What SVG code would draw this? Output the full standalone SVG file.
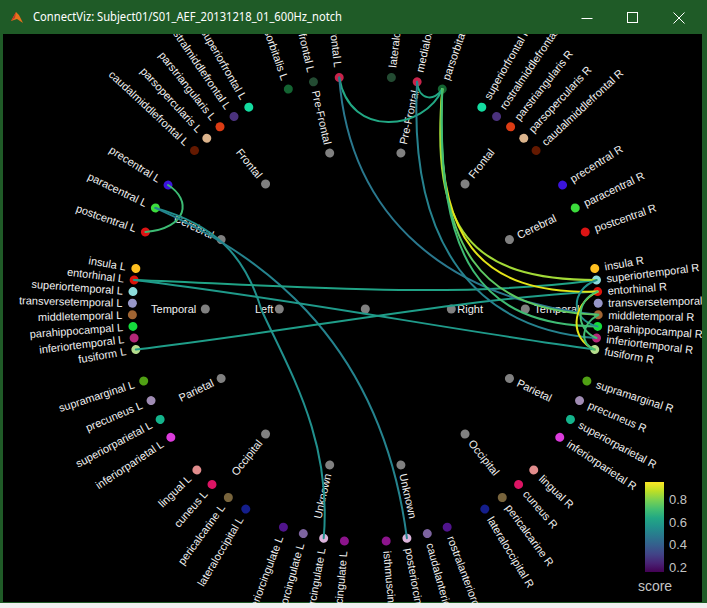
<svg xmlns="http://www.w3.org/2000/svg" width="707" height="608" viewBox="0 0 707 608">
<defs>
<linearGradient id="viridis" x1="0" y1="1" x2="0" y2="0">
<stop offset="0" stop-color="#440154"/><stop offset="0.1" stop-color="#482475"/><stop offset="0.2" stop-color="#414487"/><stop offset="0.3" stop-color="#355f8d"/><stop offset="0.4" stop-color="#2a788e"/><stop offset="0.5" stop-color="#21918c"/><stop offset="0.6" stop-color="#22a884"/><stop offset="0.7" stop-color="#44bf70"/><stop offset="0.8" stop-color="#7ad151"/><stop offset="0.9" stop-color="#bddf26"/><stop offset="1" stop-color="#fde725"/>
</linearGradient>
<style>
text{font-family:"Liberation Sans",Arial,sans-serif;font-size:11px;fill:#f0f0f0}
.l{text-anchor:end}
.r{text-anchor:start}
.g{fill:#808080}
.e{fill:none;stroke-width:2;stroke-linecap:round}
.cb{font-size:13px;fill:#c4c4c4}
.tt{font-family:"Noto Sans","Liberation Sans",sans-serif;font-size:12px;fill:#ffffff}
.wb{stroke:#ffffff;stroke-width:1;fill:none}
</style>
</defs>
<rect x="0" y="0" width="707" height="608" fill="#1f5b27"/>
<rect x="3" y="34" width="699" height="568" fill="#000000"/>

<g id="nodes">
<g id="root"><circle cx="365.3" cy="309" r="4.5" class="g"/></g>
<g id="Left"><circle cx="279.3" cy="309" r="4.5" class="g"/><text x="273.3" y="309" dy="0.35em" class="l">Left</text></g>
<g id="Right"><circle cx="451.3" cy="309" r="4.5" class="g"/><text x="457.3" y="309" dy="0.35em" class="r">Right</text></g>

<g id="PreFrontal-L" transform="rotate(77.14 365.3 309)"><circle cx="205.3" cy="309" r="4.5" class="g"/><text x="196.3" y="309" dy="0.35em" class="l">Pre-Frontal</text></g>
<g id="Frontal-L" transform="rotate(51.43 365.3 309)"><circle cx="205.3" cy="309" r="4.5" class="g"/><text x="196.3" y="309" dy="0.35em" class="l">Frontal</text></g>
<g id="Cerebral-L" transform="rotate(25.71 365.3 309)"><circle cx="205.3" cy="309" r="4.5" class="g"/><text x="196.3" y="309" dy="0.35em" class="l">Cerebral</text></g>
<g id="Temporal-L"><circle cx="205.3" cy="309" r="4.5" class="g"/><text x="196.3" y="309" dy="0.35em" class="l">Temporal</text></g>
<g id="Parietal-L" transform="rotate(-25.71 365.3 309)"><circle cx="205.3" cy="309" r="4.5" class="g"/><text x="196.3" y="309" dy="0.35em" class="l">Parietal</text></g>
<g id="Occipital-L" transform="rotate(-51.43 365.3 309)"><circle cx="205.3" cy="309" r="4.5" class="g"/><text x="196.3" y="309" dy="0.35em" class="l">Occipital</text></g>
<g id="Unknown-L" transform="rotate(-77.14 365.3 309)"><circle cx="205.3" cy="309" r="4.5" class="g"/><text x="196.3" y="309" dy="0.35em" class="l">Unknown</text></g>

<g id="PreFrontal-R" transform="rotate(-77.14 365.3 309)"><circle cx="525.3" cy="309" r="4.5" class="g"/><text x="534.3" y="309" dy="0.35em" class="r">Pre-Frontal</text></g>
<g id="Frontal-R" transform="rotate(-51.43 365.3 309)"><circle cx="525.3" cy="309" r="4.5" class="g"/><text x="534.3" y="309" dy="0.35em" class="r">Frontal</text></g>
<g id="Cerebral-R" transform="rotate(-25.71 365.3 309)"><circle cx="525.3" cy="309" r="4.5" class="g"/><text x="534.3" y="309" dy="0.35em" class="r">Cerebral</text></g>
<g id="Temporal-R"><circle cx="525.3" cy="309" r="4.5" class="g"/><text x="534.3" y="309" dy="0.35em" class="r">Temporal</text></g>
<g id="Parietal-R" transform="rotate(25.71 365.3 309)"><circle cx="525.3" cy="309" r="4.5" class="g"/><text x="534.3" y="309" dy="0.35em" class="r">Parietal</text></g>
<g id="Occipital-R" transform="rotate(51.43 365.3 309)"><circle cx="525.3" cy="309" r="4.5" class="g"/><text x="534.3" y="309" dy="0.35em" class="r">Occipital</text></g>
<g id="Unknown-R" transform="rotate(77.14 365.3 309)"><circle cx="525.3" cy="309" r="4.5" class="g"/><text x="534.3" y="309" dy="0.35em" class="r">Unknown</text></g>

<g id="parsorbitalis-L" transform="rotate(70.71 365.3 309)"><circle cx="132.3" cy="309" r="4.5" fill="#146432"/><text x="122.3" y="309" dy="0.35em" class="l">parsorbitalis L</text></g>
<g id="lateralorbitofrontal-L" transform="rotate(77.14 365.3 309)"><circle cx="132.3" cy="309" r="4.5" fill="#234b32"/><text x="122.3" y="309" dy="0.35em" class="l">lateralorbitofrontal L</text></g>
<g id="medialorbitofrontal-L" transform="rotate(83.57 365.3 309)"><circle cx="132.3" cy="309" r="4.5" fill="#c8234b"/><text x="122.3" y="309" dy="0.35em" class="l">medialorbitofrontal L</text></g>
<g id="superiorfrontal-L" transform="rotate(60 365.3 309)"><circle cx="132.3" cy="309" r="4.5" fill="#14dca0"/><text x="122.3" y="309" dy="0.35em" class="l">superiorfrontal L</text></g>
<g id="rostralmiddlefrontal-L" transform="rotate(55.71 365.3 309)"><circle cx="132.3" cy="309" r="4.5" fill="#4b327d"/><text x="122.3" y="309" dy="0.35em" class="l">rostralmiddlefrontal L</text></g>
<g id="parstriangularis-L" transform="rotate(51.43 365.3 309)"><circle cx="132.3" cy="309" r="4.5" fill="#dc3c14"/><text x="122.3" y="309" dy="0.35em" class="l">parstriangularis L</text></g>
<g id="parsopercularis-L" transform="rotate(47.14 365.3 309)"><circle cx="132.3" cy="309" r="4.5" fill="#dcb48c"/><text x="122.3" y="309" dy="0.35em" class="l">parsopercularis L</text></g>
<g id="caudalmiddlefrontal-L" transform="rotate(42.86 365.3 309)"><circle cx="132.3" cy="309" r="4.5" fill="#641900"/><text x="122.3" y="309" dy="0.35em" class="l">caudalmiddlefrontal L</text></g>
<g id="precentral-L" transform="rotate(32.14 365.3 309)"><circle cx="132.3" cy="309" r="4.5" fill="#3c14dc"/><text x="122.3" y="309" dy="0.35em" class="l">precentral L</text></g>
<g id="paracentral-L" transform="rotate(25.71 365.3 309)"><circle cx="132.3" cy="309" r="4.5" fill="#3cdc3c"/><text x="122.3" y="309" dy="0.35em" class="l">paracentral L</text></g>
<g id="postcentral-L" transform="rotate(19.29 365.3 309)"><circle cx="132.3" cy="309" r="4.5" fill="#dc1414"/><text x="122.3" y="309" dy="0.35em" class="l">postcentral L</text></g>
<g id="insula-L" transform="rotate(10 365.3 309)"><circle cx="132.3" cy="309" r="4.5" fill="#ffc020"/><text x="122.3" y="309" dy="0.35em" class="l">insula L</text></g>
<g id="entorhinal-L" transform="rotate(7.14 365.3 309)"><circle cx="132.3" cy="309" r="4.5" fill="#dc140a"/><text x="122.3" y="309" dy="0.35em" class="l">entorhinal L</text></g>
<g id="superiortemporal-L" transform="rotate(4.29 365.3 309)"><circle cx="132.3" cy="309" r="4.5" fill="#8cdcdc"/><text x="122.3" y="309" dy="0.35em" class="l">superiortemporal L</text></g>
<g id="transversetemporal-L" transform="rotate(1.43 365.3 309)"><circle cx="132.3" cy="309" r="4.5" fill="#9696c8"/><text x="122.3" y="309" dy="0.35em" class="l">transversetemporal L</text></g>
<g id="middletemporal-L" transform="rotate(-1.43 365.3 309)"><circle cx="132.3" cy="309" r="4.5" fill="#a06432"/><text x="122.3" y="309" dy="0.35em" class="l">middletemporal L</text></g>
<g id="parahippocampal-L" transform="rotate(-4.29 365.3 309)"><circle cx="132.3" cy="309" r="4.5" fill="#14dc3c"/><text x="122.3" y="309" dy="0.35em" class="l">parahippocampal L</text></g>
<g id="inferiortemporal-L" transform="rotate(-7.14 365.3 309)"><circle cx="132.3" cy="309" r="4.5" fill="#b42878"/><text x="122.3" y="309" dy="0.35em" class="l">inferiortemporal L</text></g>
<g id="fusiform-L" transform="rotate(-10 365.3 309)"><circle cx="132.3" cy="309" r="4.5" fill="#b4dc8c"/><text x="122.3" y="309" dy="0.35em" class="l">fusiform L</text></g>
<g id="supramarginal-L" transform="rotate(-18 365.3 309)"><circle cx="132.3" cy="309" r="4.5" fill="#50a014"/><text x="122.3" y="309" dy="0.35em" class="l">supramarginal L</text></g>
<g id="precuneus-L" transform="rotate(-23.14 365.3 309)"><circle cx="132.3" cy="309" r="4.5" fill="#a08cb4"/><text x="122.3" y="309" dy="0.35em" class="l">precuneus L</text></g>
<g id="superiorparietal-L" transform="rotate(-28.29 365.3 309)"><circle cx="132.3" cy="309" r="4.5" fill="#14b48c"/><text x="122.3" y="309" dy="0.35em" class="l">superiorparietal L</text></g>
<g id="inferiorparietal-L" transform="rotate(-33.43 365.3 309)"><circle cx="132.3" cy="309" r="4.5" fill="#dc3cdc"/><text x="122.3" y="309" dy="0.35em" class="l">inferiorparietal L</text></g>
<g id="lingual-L" transform="rotate(-43.71 365.3 309)"><circle cx="132.3" cy="309" r="4.5" fill="#e18c8c"/><text x="122.3" y="309" dy="0.35em" class="l">lingual L</text></g>
<g id="cuneus-L" transform="rotate(-48.86 365.3 309)"><circle cx="132.3" cy="309" r="4.5" fill="#dc1464"/><text x="122.3" y="309" dy="0.35em" class="l">cuneus L</text></g>
<g id="pericalcarine-L" transform="rotate(-54 365.3 309)"><circle cx="132.3" cy="309" r="4.5" fill="#78643c"/><text x="122.3" y="309" dy="0.35em" class="l">pericalcarine L</text></g>
<g id="lateraloccipital-L" transform="rotate(-59.14 365.3 309)"><circle cx="132.3" cy="309" r="4.5" fill="#141e8c"/><text x="122.3" y="309" dy="0.35em" class="l">lateraloccipital L</text></g>
<g id="rostralanteriorcingulate-L" transform="rotate(-69.43 365.3 309)"><circle cx="132.3" cy="309" r="4.5" fill="#50148c"/><text x="122.3" y="309" dy="0.35em" class="l">rostralanteriorcingulate L</text></g>
<g id="caudalanteriorcingulate-L" transform="rotate(-74.57 365.3 309)"><circle cx="132.3" cy="309" r="4.5" fill="#7d64a0"/><text x="122.3" y="309" dy="0.35em" class="l">caudalanteriorcingulate L</text></g>
<g id="posteriorcingulate-L" transform="rotate(-79.71 365.3 309)"><circle cx="132.3" cy="309" r="4.5" fill="#dcb4dc"/><text x="122.3" y="309" dy="0.35em" class="l">posteriorcingulate L</text></g>
<g id="isthmuscingulate-L" transform="rotate(-84.86 365.3 309)"><circle cx="132.3" cy="309" r="4.5" fill="#8c148c"/><text x="122.3" y="309" dy="0.35em" class="l">isthmuscingulate L</text></g>

<g id="lateralorbitofrontal-R" transform="rotate(-83.57 365.3 309)"><circle cx="598.3" cy="309" r="4.5" fill="#234b32"/><text x="608.3" y="309" dy="0.35em" class="r">lateralorbitofrontal R</text></g>
<g id="medialorbitofrontal-R" transform="rotate(-77.14 365.3 309)"><circle cx="598.3" cy="309" r="4.5" fill="#c8234b"/><text x="608.3" y="309" dy="0.35em" class="r">medialorbitofrontal R</text></g>
<g id="parsorbitalis-R" transform="rotate(-70.71 365.3 309)"><circle cx="598.3" cy="309" r="4.5" fill="#146432"/><text x="608.3" y="309" dy="0.35em" class="r">parsorbitalis R</text></g>
<g id="superiorfrontal-R" transform="rotate(-60 365.3 309)"><circle cx="598.3" cy="309" r="4.5" fill="#14dca0"/><text x="608.3" y="309" dy="0.35em" class="r">superiorfrontal R</text></g>
<g id="rostralmiddlefrontal-R" transform="rotate(-55.71 365.3 309)"><circle cx="598.3" cy="309" r="4.5" fill="#4b327d"/><text x="608.3" y="309" dy="0.35em" class="r">rostralmiddlefrontal R</text></g>
<g id="parstriangularis-R" transform="rotate(-51.43 365.3 309)"><circle cx="598.3" cy="309" r="4.5" fill="#dc3c14"/><text x="608.3" y="309" dy="0.35em" class="r">parstriangularis R</text></g>
<g id="parsopercularis-R" transform="rotate(-47.14 365.3 309)"><circle cx="598.3" cy="309" r="4.5" fill="#dcb48c"/><text x="608.3" y="309" dy="0.35em" class="r">parsopercularis R</text></g>
<g id="caudalmiddlefrontal-R" transform="rotate(-42.86 365.3 309)"><circle cx="598.3" cy="309" r="4.5" fill="#641900"/><text x="608.3" y="309" dy="0.35em" class="r">caudalmiddlefrontal R</text></g>
<g id="precentral-R" transform="rotate(-32.14 365.3 309)"><circle cx="598.3" cy="309" r="4.5" fill="#3c14dc"/><text x="608.3" y="309" dy="0.35em" class="r">precentral R</text></g>
<g id="paracentral-R" transform="rotate(-25.71 365.3 309)"><circle cx="598.3" cy="309" r="4.5" fill="#3cdc3c"/><text x="608.3" y="309" dy="0.35em" class="r">paracentral R</text></g>
<g id="postcentral-R" transform="rotate(-19.29 365.3 309)"><circle cx="598.3" cy="309" r="4.5" fill="#dc1414"/><text x="608.3" y="309" dy="0.35em" class="r">postcentral R</text></g>
<g id="insula-R" transform="rotate(-10 365.3 309)"><circle cx="598.3" cy="309" r="4.5" fill="#ffc020"/><text x="608.3" y="309" dy="0.35em" class="r">insula R</text></g>
<g id="superiortemporal-R" transform="rotate(-7.14 365.3 309)"><circle cx="598.3" cy="309" r="4.5" fill="#8cdcdc"/><text x="608.3" y="309" dy="0.35em" class="r">superiortemporal R</text></g>
<g id="entorhinal-R" transform="rotate(-4.29 365.3 309)"><circle cx="598.3" cy="309" r="4.5" fill="#dc140a"/><text x="608.3" y="309" dy="0.35em" class="r">entorhinal R</text></g>
<g id="transversetemporal-R" transform="rotate(-1.43 365.3 309)"><circle cx="598.3" cy="309" r="4.5" fill="#9696c8"/><text x="608.3" y="309" dy="0.35em" class="r">transversetemporal R</text></g>
<g id="middletemporal-R" transform="rotate(1.43 365.3 309)"><circle cx="598.3" cy="309" r="4.5" fill="#a06432"/><text x="608.3" y="309" dy="0.35em" class="r">middletemporal R</text></g>
<g id="parahippocampal-R" transform="rotate(4.29 365.3 309)"><circle cx="598.3" cy="309" r="4.5" fill="#14dc3c"/><text x="608.3" y="309" dy="0.35em" class="r">parahippocampal R</text></g>
<g id="inferiortemporal-R" transform="rotate(7.14 365.3 309)"><circle cx="598.3" cy="309" r="4.5" fill="#b42878"/><text x="608.3" y="309" dy="0.35em" class="r">inferiortemporal R</text></g>
<g id="fusiform-R" transform="rotate(10 365.3 309)"><circle cx="598.3" cy="309" r="4.5" fill="#b4dc8c"/><text x="608.3" y="309" dy="0.35em" class="r">fusiform R</text></g>
<g id="supramarginal-R" transform="rotate(18 365.3 309)"><circle cx="598.3" cy="309" r="4.5" fill="#50a014"/><text x="608.3" y="309" dy="0.35em" class="r">supramarginal R</text></g>
<g id="precuneus-R" transform="rotate(23.14 365.3 309)"><circle cx="598.3" cy="309" r="4.5" fill="#a08cb4"/><text x="608.3" y="309" dy="0.35em" class="r">precuneus R</text></g>
<g id="superiorparietal-R" transform="rotate(28.29 365.3 309)"><circle cx="598.3" cy="309" r="4.5" fill="#14b48c"/><text x="608.3" y="309" dy="0.35em" class="r">superiorparietal R</text></g>
<g id="inferiorparietal-R" transform="rotate(33.43 365.3 309)"><circle cx="598.3" cy="309" r="4.5" fill="#dc3cdc"/><text x="608.3" y="309" dy="0.35em" class="r">inferiorparietal R</text></g>
<g id="lingual-R" transform="rotate(43.71 365.3 309)"><circle cx="598.3" cy="309" r="4.5" fill="#e18c8c"/><text x="608.3" y="309" dy="0.35em" class="r">lingual R</text></g>
<g id="cuneus-R" transform="rotate(48.86 365.3 309)"><circle cx="598.3" cy="309" r="4.5" fill="#dc1464"/><text x="608.3" y="309" dy="0.35em" class="r">cuneus R</text></g>
<g id="pericalcarine-R" transform="rotate(54 365.3 309)"><circle cx="598.3" cy="309" r="4.5" fill="#78643c"/><text x="608.3" y="309" dy="0.35em" class="r">pericalcarine R</text></g>
<g id="lateraloccipital-R" transform="rotate(59.14 365.3 309)"><circle cx="598.3" cy="309" r="4.5" fill="#141e8c"/><text x="608.3" y="309" dy="0.35em" class="r">lateraloccipital R</text></g>
<g id="rostralanteriorcingulate-R" transform="rotate(69.43 365.3 309)"><circle cx="598.3" cy="309" r="4.5" fill="#50148c"/><text x="608.3" y="309" dy="0.35em" class="r">rostralanteriorcingulate R</text></g>
<g id="caudalanteriorcingulate-R" transform="rotate(74.57 365.3 309)"><circle cx="598.3" cy="309" r="4.5" fill="#7d64a0"/><text x="608.3" y="309" dy="0.35em" class="r">caudalanteriorcingulate R</text></g>
<g id="posteriorcingulate-R" transform="rotate(79.71 365.3 309)"><circle cx="598.3" cy="309" r="4.5" fill="#dcb4dc"/><text x="608.3" y="309" dy="0.35em" class="r">posteriorcingulate R</text></g>
<g id="isthmuscingulate-R" transform="rotate(84.86 365.3 309)"><circle cx="598.3" cy="309" r="4.5" fill="#8c148c"/><text x="608.3" y="309" dy="0.35em" class="r">isthmuscingulate R</text></g>
</g>

<g id="connectors">
<path class="e" stroke="#3dbc74" d="M168,185 C192,200 188,228 145.4,232"/>
<path class="e" stroke="#21908d" d="M155.4,207.9 C215,225 245,255 261.5,310 C290,372 332,440 323.7,538.2"/>
<path class="e" stroke="#25838e" d="M155.4,207.9 C250,250 380,330 406.9,538.2"/>
<path class="e" stroke="#20a386" d="M134.1,280 C280,285 450,300 596.5,280"/>
<path class="e" stroke="#1f9a8a" d="M134.1,280 C300,300 450,330 594.8,349.5"/>
<path class="e" stroke="#1f9e89" d="M135.8,349.5 C300,330 450,300 597.6,291.6"/>
<path class="e" stroke="#22a884" d="M339.2,77.5 C350,140 425,130 442.3,89.1"/>
<path class="e" stroke="#22a884" d="M417.1,81.8 C418,100 435,102 442.3,89.1"/>
<path class="e" stroke="#2a788e" d="M339.2,77.5 C350,220 450,300 598.2,314.8"/>
<path class="e" stroke="#26828e" d="M417.1,81.8 C408,250 480,330 596.5,338"/>
<path class="e" stroke="#a2da37" d="M442.3,89.1 C430,230 470,280 596.5,280"/>
<path class="e" stroke="#e2e418" d="M442.3,89.1 C432,240 480,295 597.6,291.6"/>
<path class="e" stroke="#5ec962" d="M442.3,89.1 C434,250 480,310 598.2,314.8"/>
<path class="e" stroke="#3fbc73" d="M442.3,89.1 C436,260 480,325 597.6,326.4"/>
<path class="e" stroke="#21918c" d="M596.5,280 C570,290 570,320 597.6,326.4"/>
<path class="e" stroke="#e2e418" d="M597.6,291.6 C570,305 570,340 594.8,349.5"/>
<path class="e" stroke="#44bf70" d="M597.6,291.6 C575,300 575,330 596.5,338"/>
<path class="e" stroke="#3fbc73" d="M598.2,314.8 C580,325 580,345 594.8,349.5"/>
</g>

<g id="colorbar">
<rect x="645" y="482" width="19" height="90" fill="url(#viridis)"/>
<text x="669" y="504" class="cb">0.8</text>
<text x="669" y="526.5" class="cb">0.6</text>
<text x="669" y="549" class="cb">0.4</text>
<text x="669" y="571.5" class="cb">0.2</text>
<text x="655" y="591" class="cb" style="font-size:14px;text-anchor:middle">score</text>
</g>

<g id="frame">
<rect x="0" y="0" width="707" height="34" fill="#1f5b27"/>
<rect x="702" y="34" width="5" height="574" fill="#1f5b27"/>
<rect x="0" y="34" width="3" height="574" fill="#1f5b27"/>
<rect x="0" y="603" width="707" height="5" fill="#f0f0f0"/>
<polygon points="11,21 16,12 19,15 23,23 17,19" fill="#e8711c"/>
<polygon points="11,21 16,12 15,18" fill="#c0392b"/>
<text x="33" y="21" class="tt" textLength="309" lengthAdjust="spacingAndGlyphs">ConnectViz: Subject01/S01_AEF_20131218_01_600Hz_notch</text>
<line x1="581.5" y1="18.5" x2="592.5" y2="18.5" class="wb"/>
<rect x="627.5" y="12.5" width="10" height="10" class="wb"/>
<line x1="673.5" y1="12.5" x2="684.5" y2="23.5" class="wb"/>
<line x1="684.5" y1="12.5" x2="673.5" y2="23.5" class="wb"/>
</g>
</svg>
